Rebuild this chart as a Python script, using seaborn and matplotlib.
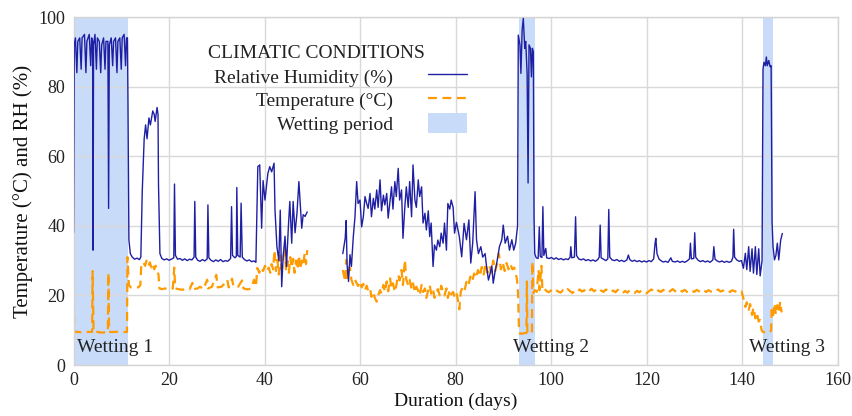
import numpy as np
import pandas as pd
import matplotlib
matplotlib.use("Agg")
import matplotlib.pyplot as plt
from matplotlib.lines import Line2D
from matplotlib.patches import Patch
import seaborn as sns

# ---------------- data ----------------
rh_days_a = [0.0, 0.15, 0.4, 0.7, 0.9, 1.3, 1.6, 1.8, 2.3, 2.6, 2.8, 3.3, 3.6, 3.8, 4.0, 4.1, 4.2,
             4.5, 4.8, 5.0, 5.4, 5.7, 5.9, 6.3, 6.6, 6.8, 7.2, 7.35, 7.5, 7.9, 8.2, 8.4, 8.8, 9.1,
             9.3, 9.7, 10.0, 10.2, 10.6, 10.9, 11.1, 11.3, 11.4, 11.6, 11.9, 12.3, 12.8, 13.3, 13.8,
             14.1, 14.4, 14.8, 15.1, 15.4, 15.8, 16.1, 16.6, 16.9, 17.1, 17.5, 17.7, 17.8, 18.1,
             18.5, 19.0, 19.5, 20.0, 20.5, 21.0, 21.15, 21.35, 21.8, 22.3, 22.8, 23.3, 23.8, 24.3,
             24.8, 25.25, 25.4, 25.6, 26.0, 26.5, 27.0, 27.5, 28.0, 28.15, 28.35, 28.8, 29.3, 29.8,
             30.3, 30.8, 31.3, 31.8, 32.3, 32.9, 33.1, 33.3, 33.8, 34.1, 34.2, 34.4, 34.9, 35.1,
             35.35, 35.8, 36.3, 36.8, 37.3, 37.8, 38.2, 38.6, 39.0, 39.4, 39.7, 40.1, 40.7, 41.1,
             41.5, 42.0, 42.2, 42.6, 43.0, 43.3, 43.6, 43.9, 44.3, 44.6, 45.0, 45.3, 45.7, 46.0,
             46.4, 46.8, 47.2, 47.6, 47.8, 48.1, 48.5, 48.95]
rh_vals_a = [38, 92, 94, 84, 93, 94, 85, 94, 95, 84, 93, 95, 86, 94, 93, 33, 92,
             95, 85, 94, 93, 84, 92, 94, 85, 93, 93, 45, 92, 94, 86, 93, 94, 84,
             93, 94, 85, 94, 95, 86, 94, 94, 77, 36, 32, 31, 30.4, 30.7, 30.3,
             31, 50, 65, 69, 65, 71, 69, 73, 72, 70, 74, 72, 52, 32,
             30.6, 30.2, 30.5, 30.1, 30.4, 30.8, 52, 31.5, 30.4, 30.6, 30.1, 30.5, 30.0, 30.4,
             30.2, 31, 47, 31, 30.1, 29.8, 30.3, 29.9, 30.5, 46, 30.8, 30.1, 29.7, 30.2,
             29.8, 30.3, 29.7, 30.0, 29.8, 30.6, 45.5, 31.5, 30.8, 31.2, 51, 31.5, 31, 46.5,
             31, 30.3, 29.9, 30.2, 29.7, 29.9, 29.5, 57, 57.5, 39.3, 53, 47.4, 55, 57,
             55.5, 58, 44.5, 34, 30, 44.5, 22.5, 31, 37, 28.3, 39.7, 47, 35, 47,
             38, 43.6, 52.7, 44, 39.3, 43.2, 42.7, 44]

rh_days_b = [56.4, 56.9, 57.1, 57.3, 57.6, 57.9, 58.2, 58.6, 58.95, 59.3, 59.6, 60.0, 60.35, 60.7,
             61.05, 61.4, 61.7, 62.1, 62.4, 62.8, 63.1, 63.5, 63.8, 64.2, 64.5, 64.9, 65.2, 65.6,
             65.9, 66.3, 66.6, 66.9, 67.3, 67.6, 68.0, 68.3, 68.7, 69.0, 69.4, 69.7, 70.1, 70.4,
             70.8, 71.1, 71.5, 71.8, 72.2, 72.5, 72.9, 73.2, 73.6, 73.9, 74.3, 74.6, 74.9, 75.3,
             75.6, 76.0, 76.3, 76.7, 77.0, 77.4, 77.7, 78.1, 78.4, 78.8, 79.1, 79.5, 79.8, 80.2,
             80.8, 81.3, 81.8, 82.3, 82.8, 83.2, 83.6, 84.1, 84.4, 84.8, 85.3, 85.7, 86.2, 86.5,
             86.9, 87.2, 87.6, 87.9, 88.3, 88.6, 89.2, 89.7, 90.0, 90.4, 90.9, 91.3, 91.8, 92.2,
             92.6, 93.0, 93.15, 93.5, 93.7, 93.96, 94.2, 94.5, 94.7, 95.0, 95.2, 95.4, 95.7, 95.9,
             96.1, 96.3, 96.45, 96.6, 96.9, 97.3, 97.55, 97.75, 98.1, 98.3, 98.5, 98.9, 99.1,
             99.6, 100.1, 100.6, 101.1, 101.6, 102.1, 102.6, 103.1, 103.6, 104.0, 104.15, 104.35,
             104.9, 105.15, 105.35, 105.8, 106.3, 106.8, 107.3, 107.8, 108.3, 108.8, 109.3, 109.8,
             110.1, 110.3, 110.5, 111.0, 111.5, 111.9, 112.1, 112.3, 112.8, 113.3, 113.8, 114.3,
             114.8, 115.3, 115.9, 116.2, 116.5, 117.0, 117.5, 118.0, 118.5, 119.0, 119.5, 120.0,
             120.5, 121.0, 121.5, 121.8, 121.95, 122.2, 122.6, 123.0, 123.5, 124.0, 124.5, 125.1,
             125.4, 126.0, 126.5, 127.0, 127.5, 128.0, 128.5, 129.0, 129.2, 129.4, 129.9, 130.1,
             130.3, 130.8, 131.3, 131.8, 132.3, 132.8, 133.3, 133.9, 134.1, 134.35, 134.8, 135.3,
             135.8, 136.3, 136.8, 137.3, 137.8, 138.1, 138.25, 138.45, 138.9, 139.4, 139.9, 140.3,
             140.7, 141.0, 141.4, 141.7, 142.1, 142.4, 142.8, 143.1, 143.5, 143.8, 144.2, 144.4,
             144.6, 144.9, 145.1, 145.3, 145.6, 145.9, 146.1, 146.3, 146.5, 146.8, 147.1, 147.4,
             147.7, 148.1, 148.45]
rh_vals_b = [32, 36.4, 41.5, 28.7, 24, 31.7, 28.3, 36.9, 42.6, 52.7, 46.4, 47.4, 39.7, 42.6,
             48.4, 46.4, 45, 49.3, 42.6, 47.9, 44.8, 50.3, 45.3, 53.2, 44.3, 48.8, 46, 49.3,
             42.2, 47.4, 51.2, 44.8, 52.7, 48.4, 56.5, 47.4, 50.3, 36.4, 45.7, 51.2, 45.3, 52.7,
             42.6, 57.5, 47.4, 45.3, 53.2, 48.4, 51.2, 40.8, 43.6, 38.8, 44.3, 36.9, 40.8, 28.3,
             34.5, 33, 35.9, 34, 37.9, 35, 40.8, 33, 46.4, 44.8, 47.4, 45.3, 37.9, 41,
             36.9, 31.1, 40.7, 36, 41.7, 29.3, 35, 49.8, 36, 32, 34, 31, 32, 28.3,
             24.4, 26, 28.5, 23.5, 27, 29, 34, 36, 40.2, 35, 37, 33, 36, 33,
             35, 40, 94.8, 92, 83.8, 96.3, 99.6, 91, 93, 83.8, 52.3, 92, 91, 82.8,
             91, 90, 42, 32, 30.8, 30.6, 39.7, 31.2, 30.9, 45.5, 31.5, 33.5, 30.8,
             30.6, 30.9, 30.4, 30.8, 30.3, 30.6, 30.2, 30.5, 30.3, 31, 34, 30.8,
             31, 42.6, 31.5, 30.5, 30.2, 30.5, 30.0, 30.3, 29.9, 30.2, 29.8, 30.3,
             31, 40.2, 30.8, 30.4, 30.0, 30.5, 44.7, 31, 30.2, 30.0, 30.3, 29.8,
             30.1, 29.7, 30.2, 31.6, 30.3, 29.8, 30.1, 29.7, 30.0, 29.6, 29.9, 29.6,
             30.0, 29.7, 30.5, 35, 36.4, 32, 30.5, 30, 29.6, 29.8, 29.5, 30.8,
             29.8, 29.6, 29.9, 29.5, 29.8, 29.5, 29.9, 30.5, 35, 30.5, 30.6, 38,
             31, 30.1, 29.7, 30.0, 29.6, 29.9, 29.5, 30.2, 34, 30.4, 29.9, 29.6,
             29.9, 29.5, 29.8, 29.5, 29.8, 31, 39, 31, 30.2, 29.8, 30, 27.8,
             32.1, 27.4, 34, 26.9, 33.4, 26.4, 34, 26, 33.4, 25.6, 30, 85,
             87, 86, 88.5, 86, 87.5, 85.7, 86, 41, 34, 30.2, 31.5, 35,
             30.2, 35.9, 37.8]

t_days_a = [0.0, 0.15, 0.3, 1.0, 2.0, 3.0, 3.9, 4.0, 4.2, 5.0, 6.0, 7.2, 7.3, 7.45, 8.5, 9.5,
            10.5, 11.2, 11.3, 11.6, 12.0, 12.8, 13.6, 14.0, 14.2, 14.6, 15.0, 15.3, 15.7, 16.0,
            16.3, 16.6, 16.9, 17.2, 17.5, 17.8, 18.0, 18.5, 19.2, 20.0, 20.8, 21.1, 21.3, 22.0,
            22.8, 23.5, 24.3, 24.9, 25.1, 26.0, 26.5, 27.2, 28.0, 28.2, 29.0, 29.9, 30.2, 31.0,
            31.5, 32.2, 32.5, 33.2, 33.5, 34.5, 35.3, 35.6, 36.5, 37.2, 37.8, 38.2, 38.5, 38.9,
            39.3, 39.7, 40.1, 40.5, 40.9, 41.2, 41.5, 41.8, 42.1, 42.4, 42.7, 43.0, 43.3, 43.6,
            43.9, 44.2, 44.5, 44.8, 45.1, 45.4, 45.7, 46.0, 46.3, 46.6, 46.9, 47.2, 47.5, 47.8,
            48.1, 48.4, 48.7, 48.95]
t_vals_a = [26.8, 10, 9.5, 9.5, 9.3, 9.5, 9.5, 27, 9.5, 9.5, 9.3, 9.5, 26.5, 9.5, 9.5, 9.6,
            9.5, 9.5, 31, 23, 22.3, 22.5, 22.3, 23, 29, 29.5, 28.5, 30, 28.5, 29.5,
            28, 29, 27.5, 28.5, 27, 26, 22, 21.8, 22, 21.6, 22, 28, 22, 21.8,
            21.6, 22, 21.7, 23.6, 21.8, 22, 22.5, 21.8, 24.5, 22, 22.5, 25.9, 22.3, 22.5,
            23.2, 24.5, 22.3, 24.8, 22.5, 22.5, 24.3, 22, 21.7, 22, 24.5, 22.5, 27.9, 26.5,
            28, 27, 28.5, 27, 28, 26.5, 29, 27.5, 33, 27, 30.2, 26, 31.5, 27.5,
            29.5, 34, 27.5, 30, 26.5, 31, 28, 30.5, 26.5, 30, 27.5, 31.5, 27.5, 30,
            28.5, 32, 29, 33]

t_days_b = [56.4, 56.9, 57.1, 57.3, 57.6, 57.9, 58.2, 58.6, 58.95, 59.3, 59.6, 60.0, 60.35, 60.7,
            61.05, 61.4, 61.7, 62.1, 62.4, 62.8, 63.1, 63.5, 63.8, 64.2, 64.5, 64.9, 65.2, 65.6,
            65.9, 66.3, 66.6, 66.9, 67.3, 67.6, 68.0, 68.3, 68.7, 69.0, 69.4, 69.7, 70.1, 70.4,
            70.8, 71.1, 71.5, 71.8, 72.2, 72.5, 72.9, 73.2, 73.6, 73.9, 74.3, 74.6, 74.9, 75.3,
            75.6, 76.0, 76.3, 76.7, 77.0, 77.4, 77.7, 78.1, 78.4, 78.8, 79.1, 79.5, 79.8, 80.2,
            80.5, 80.8, 81.1, 81.5, 81.9, 82.3, 82.7, 83.1, 83.5, 83.9, 84.3, 84.7, 85.1, 85.5,
            85.9, 86.3, 86.7, 87.1, 87.5, 87.9, 88.3, 88.7, 89.1, 89.5, 89.9, 90.3, 90.7, 91.1,
            91.5, 91.9, 92.3, 92.6, 92.9, 93.1, 93.3, 93.5, 94.0, 94.5, 94.85, 94.95, 95.05, 95.5,
            96.0, 96.1, 96.3, 96.6, 97.0, 97.4, 97.6, 98.0, 98.2, 98.6, 99.0, 99.5, 100.0, 100.5,
            101.0, 101.5, 102.0, 102.5, 103.0, 103.5, 104.0, 104.5, 105.0, 105.5, 106.0, 106.5,
            107.0, 107.5, 108.0, 108.5, 109.0, 109.5, 110.0, 110.5, 111.0, 111.5, 112.0, 112.5,
            113.0, 113.5, 114.0, 114.5, 115.0, 115.5, 116.0, 116.5, 117.0, 117.5, 118.0, 118.5,
            119.0, 119.5, 120.0, 120.5, 121.0, 121.5, 122.0, 122.5, 123.0, 123.5, 124.0, 124.5,
            125.0, 125.5, 126.0, 126.5, 127.0, 127.5, 128.0, 128.5, 129.0, 129.5, 130.0, 130.5,
            131.0, 131.5, 132.0, 132.5, 133.0, 133.5, 134.0, 134.5, 135.0, 135.5, 136.0, 136.5,
            137.0, 137.5, 138.0, 138.5, 139.0, 139.5, 139.9, 140.3, 140.7, 141.0, 141.4, 141.7,
            142.1, 142.4, 142.8, 143.1, 143.5, 143.8, 144.1, 144.3, 145.0, 145.8, 146.1, 146.2,
            146.5, 146.8, 147.1, 147.4, 147.7, 148.0, 148.3]
t_vals_b = [27.3, 24, 30.2, 25, 28, 27.9, 24.5, 23, 24.5, 23.5, 22.7, 24, 22.3, 23.3,
            21.5, 22.8, 21.3, 22, 19.6, 21, 19.3, 18.2, 20, 21.5, 20.5, 23, 21, 24,
            21.2, 24.9, 22, 23.5, 21, 22.8, 25.9, 24.3, 27.3, 23, 30.2, 24.5, 23, 24.5,
            21.7, 23.5, 20.8, 22.5, 21.3, 20, 23, 21, 22, 19.3, 21.6, 23, 20.5, 21.8,
            19.3, 21, 21.8, 20, 22.8, 21, 20, 22, 19.3, 21.6, 20.3, 21, 19.6, 20.8,
            18.7, 16, 21, 22.5, 21.5, 23.9, 22.8, 25.4, 24, 26.3, 25, 27.3, 25.5, 28.2,
            26, 29.2, 26.5, 28.5, 26.5, 30, 27, 29, 32, 27.5, 29.5, 27, 29.3, 27.5,
            29, 27.5, 28, 26.5, 24.4, 20.5, 10, 9, 9, 9.2, 9.2, 24, 9.2, 9.2,
            9.3, 29.7, 20.7, 21.5, 21, 27.3, 21.5, 28.5, 21.5, 22, 21.3, 20.9, 21.4, 21.0,
            21.6, 21.1, 20.8, 21.5, 21.0, 21.8, 21.2, 20.7, 21.4, 21.0, 21.7, 21.1,
            21.5, 20.8, 21.3, 21.9, 21.2, 21.6, 20.9, 21.4, 21.0, 21.7, 21.2, 20.8,
            21.4, 20.9, 21.6, 21.0, 20.6, 21.3, 20.8, 21.5, 21.0, 20.7, 21.3, 20.9,
            21.5, 21.0, 20.6, 21.2, 21.7, 21.2, 20.8, 21.4, 21.0, 21.6, 21.1, 20.7,
            21.3, 21.8, 21.2, 20.9, 21.5, 21.1, 21.6, 21.0, 20.7, 21.3, 21.0, 21.6,
            21.2, 20.8, 21.4, 21.0, 21.5, 21.1, 20.8, 21.3, 21.7, 21.1, 21.4, 20.9,
            21.3, 21.0, 21.5, 21.1, 21.4, 21.0, 21.2, 19.1, 16.7, 18, 15.8, 17.5,
            14.4, 16.5, 13.4, 15, 12.5, 12.9, 10, 9.6, 9.2, 9.3, 10, 15.8,
            14, 17.7, 14.5, 17.2, 15, 18.2, 15.1]

wet_start = [0.0, 93.2, 144.4]
wet_end = [11.5, 96.7, 146.5]
wet_labels = ["Wetting 1", "Wetting 2", "Wetting 3"]
wet_label_x = [0.7, 92.0, 141.5]

x_ticks = [0, 20, 40, 60, 80, 100, 120, 140, 160]
y_ticks = [0, 20, 40, 60, 80, 100]

legend_title = "CLIMATIC CONDITIONS"
legend_labels = ["Relative Humidity (%)", "Temperature (°C)", "Wetting period"]

# ---------------- style ----------------
sns.set_theme(style="whitegrid")
plt.rcParams["font.family"] = ["Liberation Serif", "DejaVu Serif"]

RH_COL = "#1f1fa3"
T_COL = "#ff9b00"
WET_COL = "#c8dbf8"
TXT = "#222222"

fig = plt.figure(figsize=(8.52, 4.16), dpi=100)
ax = fig.add_axes([73.5 / 852, 1 - 365 / 416, (837.5 - 73.5) / 852, (365 - 17) / 416])

for s, e in zip(wet_start, wet_end):
    ax.axvspan(s, e, color=WET_COL, lw=0, zorder=0.5)

rh_a = pd.DataFrame({"day": rh_days_a, "rh": rh_vals_a})
rh_b = pd.DataFrame({"day": rh_days_b, "rh": rh_vals_b})
t_a = pd.DataFrame({"day": t_days_a, "t": t_vals_a})
t_b = pd.DataFrame({"day": t_days_b, "t": t_vals_b})

for df in (t_a, t_b):
    sns.lineplot(data=df, x="day", y="t", ax=ax, color=T_COL, lw=1.6,
                 estimator=None, sort=False, zorder=2)
for df in (rh_a, rh_b):
    sns.lineplot(data=df, x="day", y="rh", ax=ax, color=RH_COL, lw=1.0,
                 estimator=None, sort=False, zorder=3)
for ln in ax.lines[:2]:
    ln.set_dashes([4, 2.5])

for lab, x in zip(wet_labels, wet_label_x):
    ax.text(x, 3.6, lab, fontsize=14, color=TXT, va="baseline", ha="left", zorder=4)

ax.set_xlim(0, 160)
ax.set_ylim(0, 100)
ax.set_xticks(x_ticks)
ax.set_yticks(y_ticks)
ax.tick_params(axis="both", length=0, labelsize=13, colors=TXT)
ax.tick_params(axis="y", pad=6)
ax.tick_params(axis="x", pad=5)
ax.grid(True, color="#d9d9d9", lw=1.0)
ax.set_axisbelow(True)
for sp in ax.spines.values():
    sp.set_color("#d4d4d4")
    sp.set_linewidth(1.0)
ax.set_xlabel("Duration (days)", fontsize=14, color="#111111", labelpad=3)
ax.set_ylabel("Temperature (°C) and RH (%)", fontsize=15, color="#111111", labelpad=4)

# legend title as its own text, entries as a legend with handles on the right
ax.text((208 - 73.5) / 764, (365 - 58) / 348, legend_title, transform=ax.transAxes,
        fontsize=14, color=TXT, ha="left", va="baseline")
handles = [Line2D([], [], color=RH_COL, lw=1.0),
           Line2D([], [], color=T_COL, lw=1.6, dashes=[4, 2.5]),
           Patch(facecolor=WET_COL, edgecolor="none")]
leg = ax.legend(handles, legend_labels, loc="upper right",
                bbox_to_anchor=((467 - 73.5) / 764, (365 - 66) / 348), frameon=False,
                markerfirst=False, fontsize=14, handlelength=2.0, handleheight=1.2,
                handletextpad=1.8, labelspacing=0.15, borderaxespad=0, borderpad=0)
for t in leg.get_texts():
    t.set_color(TXT)

fig.savefig("out.png", dpi=100)
